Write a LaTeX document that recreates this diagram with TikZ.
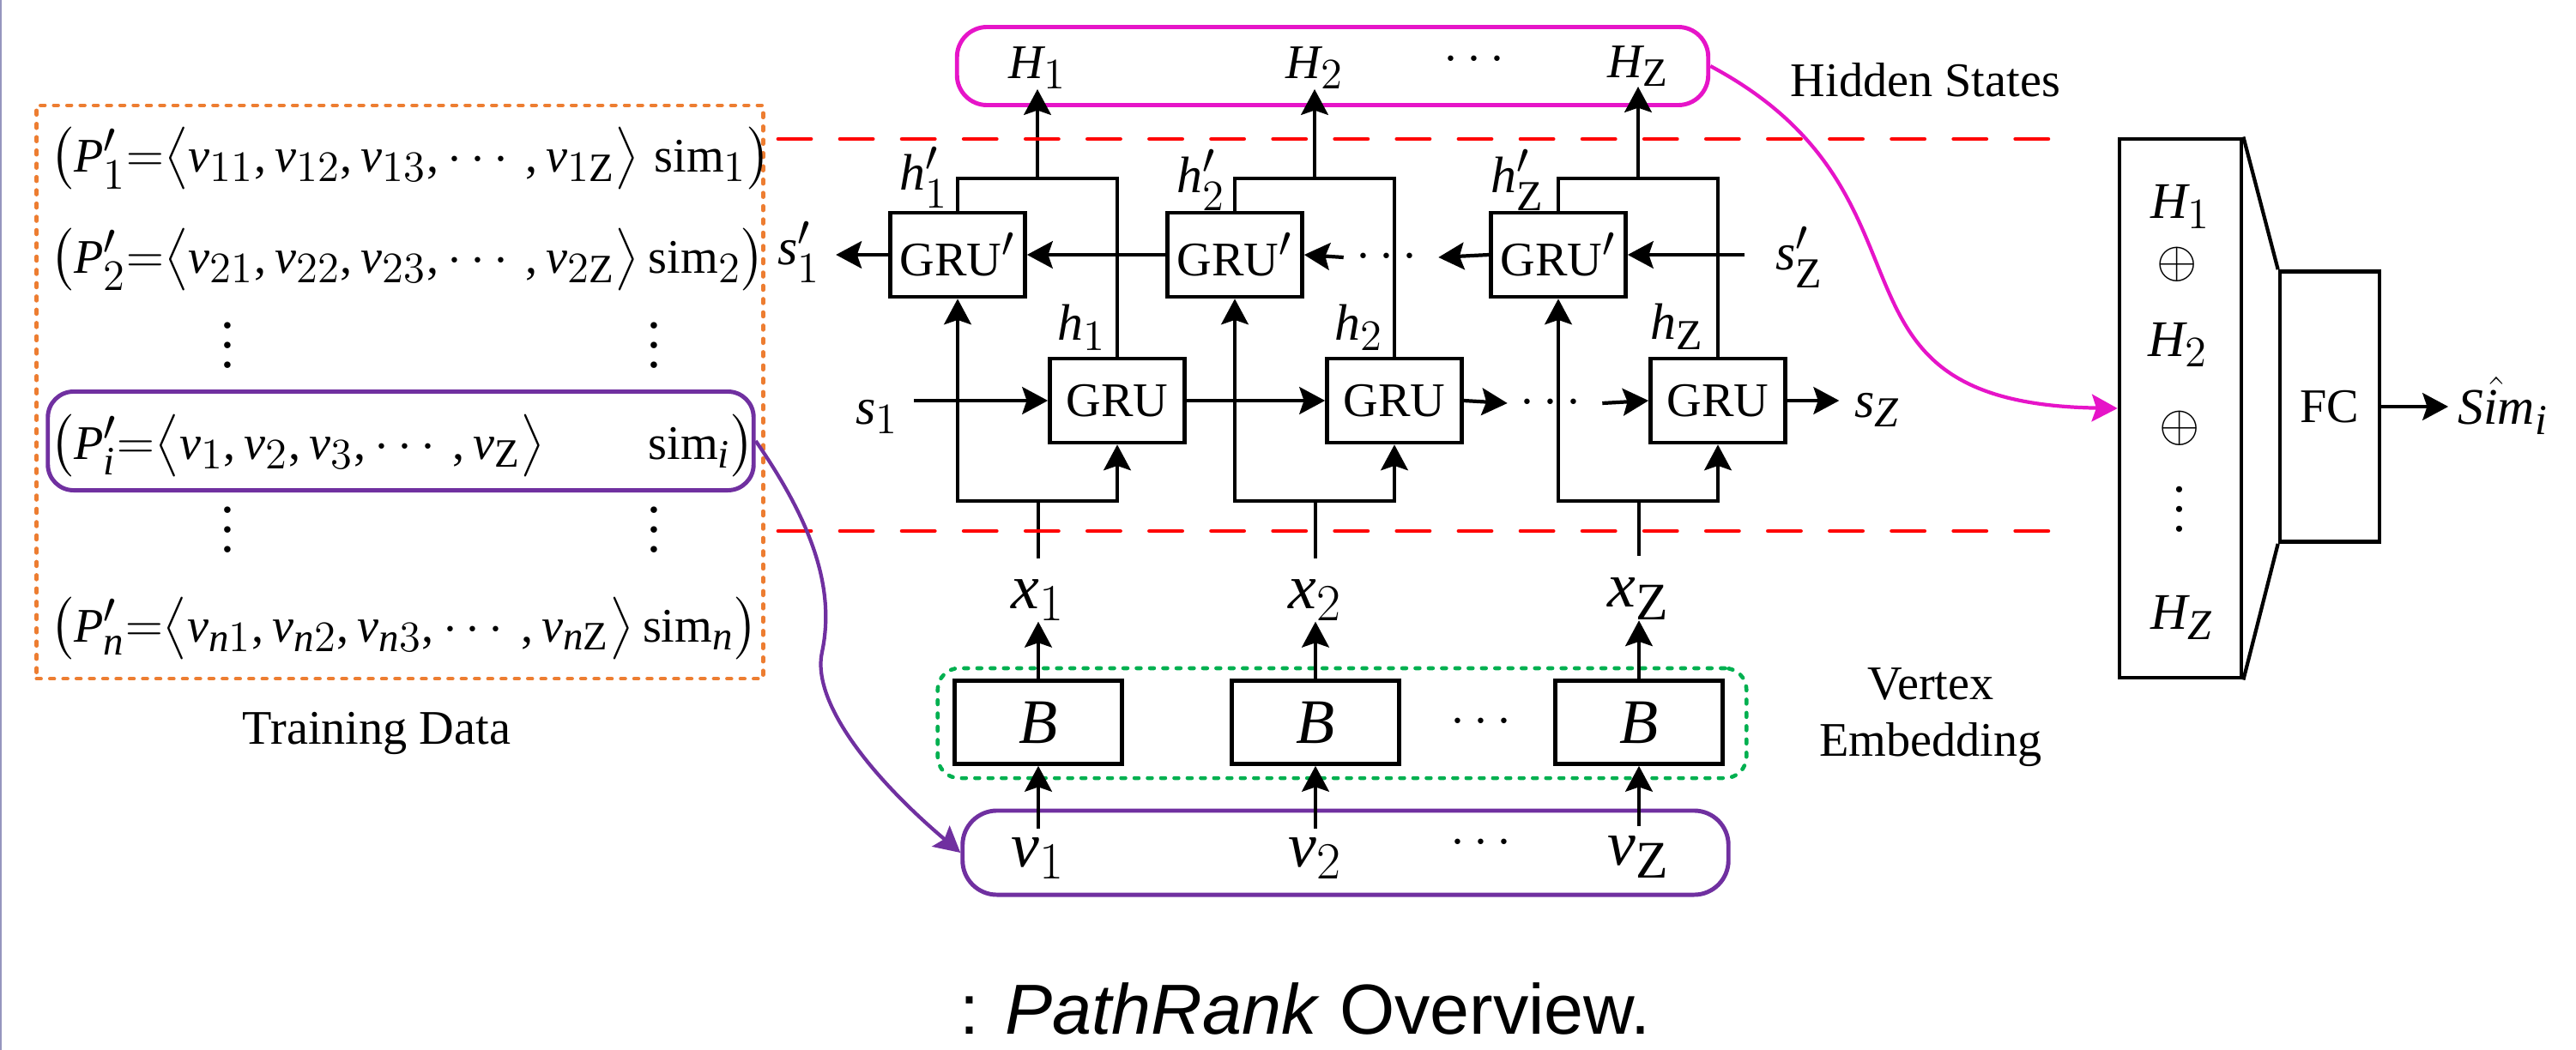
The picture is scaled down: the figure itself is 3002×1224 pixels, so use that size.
\documentclass[tikz,border=0pt]{standalone}
\usepackage{fontspec}
\setmainfont{Liberation Serif}
\setsansfont{Liberation Sans}
\usepackage{amsmath}
\usepackage[italic]{mathastext}
\usetikzlibrary{arrows.meta}
\definecolor{hidden}{RGB}{230, 20, 200}
\definecolor{select}{RGB}{112, 48, 160}
\definecolor{train}{RGB}{237, 125, 49}
\definecolor{embed}{RGB}{0, 176, 80}
\definecolor{cut}{RGB}{255, 0, 0}
\definecolor{edge}{RGB}{150, 150, 190}
\newcommand{\fsz}[1]{\fontsize{#1}{#1}\selectfont}
\newcommand{\vdts}{\vbox{\baselineskip=6.5pt\lineskiplimit=0pt\hbox{.}\hbox{.}\hbox{.}}}

\begin{document}
\begin{tikzpicture}[x=0.01cm, y=-0.01cm,
    line/.style={line width=1.2pt, line join=miter},
    arr/.style={line, -{Stealth[length=8.5pt, width=9pt, inset=1.5pt]}},
    box/.style={rectangle, draw, line width=1.3pt, minimum width=1.57cm,
                minimum height=0.98cm, inner sep=0pt, font=\fsz{16}},
    emb/.style={box, minimum width=1.95cm, minimum height=0.97cm, font=\fsz{21}},
    var/.style={inner sep=0pt, font=\fsz{17}},
    bigvar/.style={inner sep=0pt, font=\fsz{21}},
    rowtxt/.style={anchor=west, inner sep=0pt, font=\fsz{16}},
    txt/.style={anchor=base, align=center, font=\fsz{16}},
    grpbox/.style={rectangle, draw, rounded corners=0.3cm, line width=1.4pt},
    dotbox/.style={rectangle, draw, line width=1.3pt, line cap=round, dash pattern=on 1.4pt off 3pt},
    cutline/.style={line width=1.4pt, color=cut, line cap=round, dash pattern=on 10.8pt off 9.7pt}]

    \path[fill=white, use as bounding box] (0, 0) rectangle (3002, 1224);

    % Frame line
    \draw[color=edge, line width=0.6pt] (1, 0) -- (1, 1224);

    % Training data
    \node[dotbox, draw=train, minimum width=8.46cm, minimum height=6.68cm] (td) at (466, 457) {};
    \node[rowtxt] (r1) at (58, 185) {$\bigl(P_1'{=}\bigl\langle v_{11}, v_{12}, v_{13},\cdots, v_{1\mathrm{Z}}\bigr\rangle\;\mathrm{sim}_1\bigr)$};
    \node[rowtxt] (r2) at (58, 303) {$\bigl(P_2'{=}\bigl\langle v_{21}, v_{22}, v_{23},\cdots, v_{2\mathrm{Z}}\bigr\rangle\,\mathrm{sim}_2\bigr)$};
    \node[var, font=\fsz{18}] (vd1) at (265, 403) {\vdts};
    \node[var, font=\fsz{18}] (vd2) at (762, 403) {\vdts};
    \node[grpbox, draw=select, minimum width=8.22cm, minimum height=1.15cm] (sel) at (467, 514) {};
    \node[rowtxt] (ri) at (58, 520) {$\bigl(P_i'{=}\bigl\langle v_1, v_2, v_3,\cdots, v_{\mathrm{Z}}\bigr\rangle\hspace{1.2cm}\mathrm{sim}_i\bigr)$};
    \node[var, font=\fsz{18}] (vd3) at (265, 618) {\vdts};
    \node[var, font=\fsz{18}] (vd4) at (762, 618) {\vdts};
    \node[rowtxt] (rn) at (58, 733) {$\bigl(P_n'{=}\bigl\langle v_{n1}, v_{n2}, v_{n3},\cdots, v_{n\mathrm{Z}}\bigr\rangle\,\mathrm{sim}_n\bigr)$};
    \node[txt] (tdl) at (439, 867) {Training Data};

    % Hidden states
    \node[grpbox, draw=hidden, rounded corners=0.35cm, minimum width=8.75cm, minimum height=0.91cm] (hs) at (1553, 77) {};
    \node[var, font=\fsz{16}] (H1) at (1209, 79) {$H_1$};
    \node[var, font=\fsz{16}] (H2) at (1532, 79) {$H_2$};
    \node[var, font=\fsz{16}] (hd) at (1723, 70) {$\cdots$};
    \node[var, font=\fsz{16}] (Hz) at (1909, 77) {$H_{\mathrm{Z}}$};
    \node[txt] (hsl) at (2244, 112) {Hidden States};

    % Backward GRU row
    \node[box] (gp1) at (1116, 297) {GRU$'$};
    \node[box] (gp2) at (1439, 297) {GRU$'$};
    \node[box] (gp3) at (1816, 297) {GRU$'$};
    \node[var, inner sep=5pt] (sp1) at (931, 294) {$s_1'$};
    \node[var, inner sep=4pt] (dp) at (1621, 300) {$\cdots$};
    \node[var, inner ysep=5pt, inner xsep=10pt] (spz) at (2097, 300) {$s_{\mathrm{Z}}'$};

    % Forward GRU row
    \node[box] (gr1) at (1302, 467) {GRU};
    \node[box] (gr2) at (1625, 467) {GRU};
    \node[box] (gr3) at (2002, 467) {GRU};
    \node[var, inner sep=5pt] (s1) at (1022, 486) {$s_1$};
    \node[var, inner sep=4pt] (dr) at (1812, 470) {$\cdots$};
    \node[var, inner sep=5pt] (sz) at (2188, 478) {$s_Z$};

    % Hidden outputs
    \node[var, anchor=east] (hp1) at (1106, 207) {$h_1'$};
    \node[var, anchor=east] (hp2) at (1429, 210) {$h_2'$};
    \node[var, anchor=east] (hpz) at (1800, 210) {$h_{\mathrm{Z}}'$};
    \node[var, anchor=east] (h1) at (1290, 382) {$h_1$};
    \node[var, anchor=east] (h2) at (1613, 382) {$h_2$};
    \node[var, anchor=east] (hz) at (1986, 381) {$h_{\mathrm{Z}}$};

    % Vertex embedding
    \node[dotbox, draw=embed, rounded corners=0.25cm, minimum width=9.42cm, minimum height=1.28cm] (emb) at (1564, 843) {};
    \node[emb] (bb1) at (1210, 842) {$B$};
    \node[emb] (bb2) at (1533, 842) {$B$};
    \node[emb] (bb3) at (1910, 842) {$B$};
    \node[var] (db) at (1731, 842) {$\cdots$};
    \node[txt, font=\fontsize{16}{18.8}\selectfont, anchor=center] (vel) at (2250, 836) {Vertex\\Embedding};

    % Inputs
    \node[bigvar] (x1) at (1210, 700) {$x_1$};
    \node[bigvar] (x2) at (1533, 700) {$x_2$};
    \node[bigvar] (xz) at (1910, 698) {$x_{\mathrm{Z}}$};

    % Selected path
    \node[grpbox, draw=select, rounded corners=0.4cm, minimum width=8.92cm, minimum height=0.98cm] (vb) at (1568, 994) {};
    \node[bigvar] (v1) at (1210, 1001) {$v_1$};
    \node[bigvar] (v2) at (1533, 1001) {$v_2$};
    \node[var] (dv) at (1731, 983) {$\cdots$};
    \node[bigvar] (vz) at (1910, 999) {$v_{\mathrm{Z}}$};

    % Concatenation and FC
    \node[box, minimum width=1.42cm, minimum height=6.28cm] (cat) at (2541, 476) {};
    \node[box, minimum width=1.16cm, minimum height=3.15cm] (fc) at (2715, 474) {FC};
    \node[var] (c1) at (2541, 241) {$H_1$};
    \node[var] (co1) at (2537, 308) {$\oplus$};
    \node[var] (c2) at (2538, 402) {$H_2$};
    \node[var] (co2) at (2540, 499) {$\oplus$};
    \node[var] (cd) at (2540, 594) {\vdts};
    \node[var] (cz) at (2543, 720) {$H_Z$};
    \node[var, inner sep=3pt] (sim) at (2917, 473) {$\hat{Sim}_i$};
    \draw[line] (cat.north east) -- (fc.north west);
    \draw[line] (cat.south east) -- (fc.south west);
    \draw[arr] (fc.east) -- (fc.east -| sim.west);

    % Top brackets
    \coordinate (t1) at (1209, 208);
    \coordinate (t2) at (1532, 208);
    \coordinate (t3) at (1909, 208);
    \draw[line] (gp1.north) |- (t1) -| (gr1.north);
    \draw[line] (gp2.north) |- (t2) -| (gr2.north);
    \draw[line] (gp3.north) |- (t3) -| (gr3.north);
    \draw[arr] (t1) -- (H1);
    \draw[arr] (t2) -- (H2);
    \draw[arr] (t3) -- (Hz);

    % Bottom brackets
    \coordinate (b1) at (1210, 584);
    \coordinate (b2) at (1533, 584);
    \coordinate (b3) at (1910, 584);
    \draw[arr] (b1) -| (gp1.south);
    \draw[arr] (b1) -| (gr1.south);
    \draw[arr] (b2) -| (gp2.south);
    \draw[arr] (b2) -| (gr2.south);
    \draw[arr] (b3) -| (gp3.south);
    \draw[arr] (b3) -| (gr3.south);
    \draw[line] ([yshift=7pt]x1.north) -- (b1);
    \draw[line] ([yshift=7pt]x2.north) -- (b2);
    \draw[line] ([yshift=7pt]xz.north) -- (b3);

    % Backward chain
    \draw[arr] (gp1.west) -- (gp1.west -| sp1.east);
    \draw[arr] (gp2.west) -- (gp1.east);
    \draw[arr] (dp.west) -- (gp2.east);
    \draw[arr] (gp3.west) -- (dp.east);
    \draw[arr] (spz.west |- gp3.east) -- (gp3.east);

    % Forward chain
    \draw[arr] (s1.east |- gr1.west) -- (gr1.west);
    \draw[arr] (gr1.east) -- (gr2.west);
    \draw[arr] (gr2.east) -- (dr.west);
    \draw[arr] (dr.east) -- (gr3.west);
    \draw[arr] (gr3.east) -- (gr3.east -| sz.west);

    % Embedding arrows
    \draw[arr] (bb1) -- (x1);
    \draw[arr] (bb2) -- (x2);
    \draw[arr] (bb3) -- (xz);
    \draw[arr] ([yshift=3pt]v1.north) -- (bb1);
    \draw[arr] ([yshift=3pt]v2.north) -- (bb2);
    \draw[arr] ([yshift=3pt]vz.north) -- (bb3);

    % Split lines
    \draw[cutline] (907, 162) -- (2399, 162);
    \draw[cutline] (907, 619) -- (2399, 619);

    % Curves
    \draw[line, color=hidden, -{Stealth[length=8.5pt, width=9pt, inset=1.5pt]}]
        (hs.east) .. controls (2280, 230) and (2100, 470) .. (cat.west);
    \draw[line, color=select, -{Stealth[length=8.5pt, width=9pt, inset=1.5pt]}]
        (sel.east) .. controls (940, 600) and (975, 680) .. (958, 760)
        .. controls (945, 820) and (1020, 910) .. (vb.west);

    % Caption
    \node[font={\sffamily\fsz{23.5}}, anchor=base] (cap) at (1521, 1205) {: \textit{PathRank} Overview.};
\end{tikzpicture}
\end{document}
